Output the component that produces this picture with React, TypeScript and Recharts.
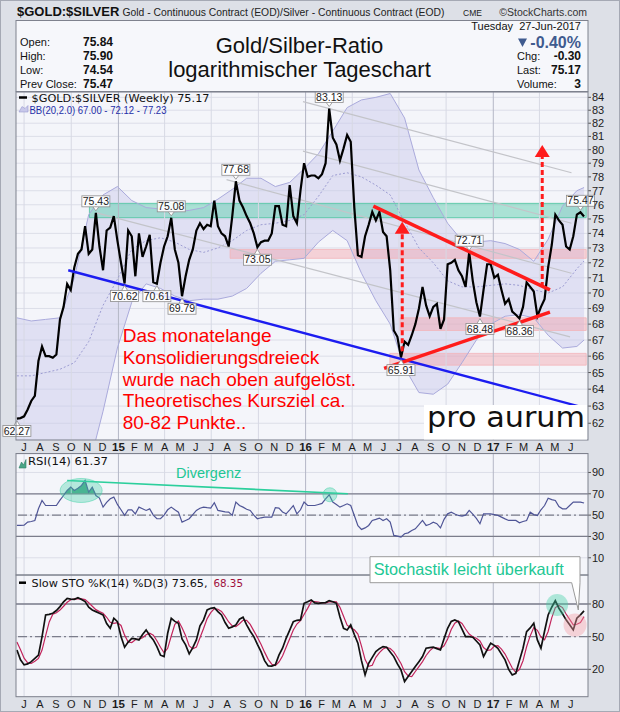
import React from "react";
import {
  ComposedChart,
  Line,
  Area,
  XAxis,
  YAxis,
  CartesianGrid,
  ReferenceLine,
  ReferenceArea,
  ReferenceDot,
} from "recharts";

// weekly bars: first one is the week of 17-Jun-2014, the last one is 27-Jun-2017
const FIRST_BAR = Date.UTC(2014, 5, 17);
const WEEK = 7 * 24 * 3600 * 1000;

const closes = [
  62.27, 62.3, 62.4, 62.8, 63.3, 63.6, 65.7, 66.6, 66.0, 66.0,
  65.9, 66.1, 68.3, 69.1, 70.6, 70.2, 71.7, 72.6, 72.9, 74.5,
  72.6, 72.9, 75.43, 73.1, 71.5, 74.2, 74.4, 75.2, 73.5, 72.0,
  70.62, 74.2, 73.8, 71.1, 74.0, 72.4, 73.1, 73.9, 70.7, 70.61,
  72.0, 73.1, 73.8, 75.08, 72.9, 72.0, 69.79, 71.1, 72.2, 72.9,
  74.2, 74.7, 74.3, 74.6, 74.5, 76.3, 74.5, 74.0, 73.8, 73.1,
  75.2, 77.68, 76.3, 75.8, 75.2, 74.7, 74.0, 73.05, 73.4, 73.5,
  73.5, 74.0, 75.9, 75.9, 74.6, 74.5, 77.4, 75.2, 74.7, 77.0,
  79.0, 78.0, 78.1, 78.1, 77.9, 78.2, 79.0, 83.13, 80.9, 80.4,
  79.2, 80.1, 81.1, 80.6, 75.8, 72.5, 72.4, 73.8, 74.6, 75.5,
  74.9, 75.5, 74.1, 73.8, 71.5, 67.6, 67.2, 65.91, 66.9, 66.7,
  67.3, 68.0, 69.0, 70.4, 69.2, 68.5, 69.1, 69.3, 67.7, 68.3,
  71.9, 72.0, 72.2, 71.5, 71.1, 70.4, 72.71, 70.8, 69.4, 68.48,
  70.2, 71.9, 71.9, 71.0, 71.2, 70.2, 69.3, 69.6, 68.8, 68.6,
  68.36, 69.1, 70.7, 70.4, 70.1, 68.5, 69.1, 69.6, 71.7, 73.2,
  75.3, 74.9, 74.6, 73.1, 72.9, 73.8, 75.3, 75.47, 75.17,
];

const rsi14 = [
  40.3, 40.3, 40.5, 43.4, 44.0, 45.0, 56.0, 63.7, 59.0, 59.0,
  59.0, 59.0, 64.0, 68.4, 73.1, 76.2, 73.1, 75.3, 77.8, 82.5,
  71.6, 76.2, 68.4, 66.0, 57.5, 62.0, 65.3, 66.9, 60.0, 55.0,
  49.7, 55.0, 55.0, 51.2, 57.5, 56.0, 54.4, 55.9, 50.0, 46.6,
  46.6, 50.0, 55.0, 57.5, 55.0, 52.8, 43.4, 45.0, 46.6, 50.5,
  54.4, 56.5, 57.5, 57.0, 56.6, 61.6, 54.4, 53.8, 53.0, 52.8,
  49.7, 62.2, 59.0, 57.5, 55.5, 54.4, 50.0, 46.6, 47.5, 48.1,
  48.1, 48.1, 57.0, 56.6, 53.0, 51.2, 55.0, 59.0, 51.2, 55.0,
  62.2, 59.0, 59.0, 59.0, 60.0, 61.0, 65.3, 69.1, 62.2, 60.0,
  57.5, 59.0, 60.6, 59.0, 49.7, 40.0, 36.6, 38.0, 40.3, 45.0,
  46.0, 47.2, 45.0, 46.6, 43.4, 31.0, 30.3, 29.4, 32.5, 33.4,
  35.6, 37.2, 41.0, 45.0, 40.3, 41.5, 43.4, 42.0, 38.0, 46.0,
  51.2, 52.8, 51.0, 49.7, 49.1, 50.0, 54.4, 51.0, 47.0, 41.9,
  51.2, 51.2, 51.2, 50.5, 49.7, 48.1, 46.5, 45.0, 45.0, 45.0,
  42.8, 44.0, 45.0, 52.8, 50.5, 49.7, 55.0, 59.0, 65.9, 64.5,
  63.7, 58.0, 55.9, 55.9, 59.0, 62.2, 62.2, 62.2, 61.37,
];

const stoK = [
  37.8, 28.7, 24.1, 25.0, 27.1, 30.0, 33.0, 50.1, 69.9, 70.5,
  71.5, 74.0, 77.6, 82.0, 85.2, 84.5, 84.3, 85.8, 84.0, 82.2,
  77.0, 74.5, 73.0, 71.5, 69.9, 62.0, 57.7, 66.9, 63.8, 50.1,
  40.3, 45.0, 48.5, 48.0, 47.0, 52.0, 56.2, 51.0, 47.0, 40.9,
  33.0, 31.7, 53.1, 66.9, 64.0, 62.3, 48.0, 42.4, 34.2, 40.0,
  47.0, 60.0, 65.4, 74.5, 76.0, 76.7, 73.0, 69.9, 63.0, 57.7,
  59.0, 60.8, 66.0, 67.8, 60.8, 55.0, 50.1, 43.0, 36.3, 28.0,
  23.2, 23.0, 24.1, 33.0, 39.4, 48.5, 56.0, 63.8, 65.0, 65.4,
  80.6, 82.0, 83.7, 81.0, 80.6, 81.0, 81.3, 83.1, 82.0, 80.6,
  68.0, 57.7, 56.2, 60.8, 52.0, 44.0, 28.0, 14.9, 25.6, 31.0,
  36.3, 39.0, 40.9, 40.3, 36.0, 31.7, 25.0, 19.5, 8.8, 13.4,
  18.0, 22.5, 27.0, 31.7, 39.4, 40.0, 40.3, 39.0, 37.8, 48.0,
  57.7, 64.0, 65.4, 63.8, 57.0, 50.1, 50.0, 49.5, 46.0, 42.4,
  31.7, 38.0, 44.0, 42.0, 39.4, 34.0, 28.7, 20.0, 14.9, 16.4,
  28.0, 39.4, 54.6, 58.0, 62.3, 47.0, 39.4, 55.0, 69.9, 77.0,
  83.1, 76.1, 71.0, 65.4, 61.0, 56.2, 66.9, 70.0, 73.65,
];

const stoD = [
  45.0, 38.0, 30.2, 25.9, 25.4, 27.4, 30.0, 37.7, 51.0, 63.5,
  70.6, 72.0, 74.4, 77.9, 81.6, 83.9, 84.7, 84.9, 84.7, 84.0,
  81.1, 77.9, 74.8, 73.0, 71.5, 67.8, 63.2, 62.2, 62.8, 60.3,
  51.4, 45.1, 44.6, 47.2, 47.8, 49.0, 51.7, 53.1, 51.4, 46.3,
  40.3, 35.2, 39.3, 50.6, 61.3, 64.4, 58.1, 50.9, 41.5, 38.9,
  40.4, 49.0, 57.5, 66.6, 72.0, 75.7, 75.2, 73.2, 68.6, 63.5,
  59.9, 59.2, 61.9, 64.9, 64.9, 61.2, 55.3, 49.4, 43.1, 35.8,
  29.2, 24.7, 23.4, 26.7, 32.2, 40.3, 48.0, 56.1, 61.6, 64.7,
  70.3, 76.0, 82.1, 82.2, 81.8, 80.9, 81.0, 81.8, 82.1, 81.9,
  76.9, 68.8, 60.6, 58.2, 56.3, 52.3, 41.3, 29.0, 22.8, 23.8,
  31.0, 35.4, 38.7, 40.1, 39.1, 36.0, 30.9, 25.4, 17.8, 13.9,
  13.4, 18.0, 22.5, 27.1, 32.7, 37.0, 39.9, 39.8, 39.0, 41.6,
  47.8, 56.6, 62.4, 64.4, 62.1, 57.0, 52.4, 49.9, 48.5, 46.0,
  40.0, 37.4, 37.9, 41.3, 41.8, 38.5, 34.0, 27.6, 21.2, 17.1,
  19.8, 27.9, 40.7, 50.7, 58.3, 55.8, 49.6, 47.1, 54.8, 67.3,
  76.7, 78.7, 76.7, 70.8, 65.8, 60.9, 61.4, 63.0, 68.35,
];

// Bollinger bands (20, 2.0), read every fourth week
const bbWeeks = [
  0, 4, 8, 12, 16, 20, 24, 28, 32, 36, 40, 44, 48, 52, 56, 60, 64, 68, 72, 76,
  80, 84, 88, 92, 96, 100, 104, 108, 112, 116, 120, 124, 128, 132, 136, 140, 144, 148, 152, 156, 158,
];
const bbUpper = [
  68.4, 68.2, 68.3, 68.4, 71.0, 75.3, 76.7, 77.3, 76.3, 75.8,
  75.7, 75.5, 75.6, 75.8, 76.4, 77.1, 77.9, 77.9, 77.3, 77.6,
  78.6, 79.7, 81.4, 83.2, 83.8, 84.0, 84.3, 82.4, 78.5, 76.5,
  74.7, 73.5, 73.4, 73.5, 73.3, 72.9, 72.1, 73.6, 75.9, 77.0,
  77.23,
];
const bbMiddle = [
  64.8, 64.8, 65.0, 65.2, 65.6, 66.9, 69.2, 70.9, 72.9, 73.5,
  73.7, 73.4, 72.9, 72.7, 73.0, 73.5, 74.2, 74.6, 74.7, 74.9,
  75.3, 76.6, 78.1, 78.3, 78.0, 77.4, 76.7, 74.8, 73.0, 72.0,
  70.8, 70.4, 70.4, 70.5, 70.6, 70.5, 70.2, 70.0, 70.4, 71.6,
  72.12,
];
const bbLower = [
  60.6, 60.6, 60.8, 61.0, 59.8, 59.5, 62.7, 66.5, 69.4, 70.6,
  70.3, 69.8, 69.5, 69.6, 69.6, 69.8, 70.3, 71.3, 72.1, 72.2,
  72.3, 73.4, 74.2, 73.5, 71.3, 69.5, 68.0, 65.3, 63.8, 63.7,
  64.3, 65.6, 67.0, 68.0, 68.5, 68.6, 68.4, 67.3, 66.5, 66.6,
  67.0,
];

const monthLabels = [
  "J", "A", "S", "O", "N", "D", "15", "F", "M", "A", "M", "J",
  "J", "A", "S", "O", "N", "D", "16", "F", "M", "A", "M", "J",
  "J", "A", "S", "O", "N", "D", "17", "F", "M", "A", "M", "J",
];
const priceTicks = [62, 63, 64, 65, 66, 67, 68, 69, 70, 71, 72, 73, 74, 75, 76, 77, 78, 79, 80, 81, 82, 83, 84];
const rsiTicks = [10, 30, 50, 70, 90];
const stoTicks = [20, 50, 80];

// weeks that carry a value tag
const tagsHigh = [22, 43, 61, 87, 126, 157];
const tagsLow = [0, 30, 39, 46, 67, 107, 129, 140];

// hand drawn annotations: [week, value, week, value]
const resistanceZone = [20.2, 75.09, 76.1];
const supportZones = [
  [59.4, 72.3, 72.9],
  [106.7, 67.6, 68.4],
  [103.9, 65.45, 66.17],
];
const channelLines = [
  [79.7, 83.66, 154.5, 78.3],
  [79.7, 79.9, 154.5, 74.7],
  [58.4, 77.8, 154.5, 71.3],
  [22.2, 75.43, 154.1, 67.2],
];
const blueTrend = [14.3, 71.5, 158.7, 62.87];
const triangleTop = [99.3, 75.9, 148.5, 70.2];
const triangleBottom = [102.3, 65.25, 148.5, 68.76];
const targetArrows = [
  { week: 107.35, from: 66.3, to: 74.0, tip: 74.8 },
  { week: 146.35, from: 70.4, to: 79.5, tip: 80.35 },
];
const divergence = [14.0, 82.5, 92.2, 70.0];

const monthTicks = monthLabels.map((_, k) => (Date.UTC(2014, 6 + k, 1) - FIRST_BAR) / WEEK);
const quarterTicks = monthTicks.filter((_, k) => (6 + k) % 3 === 0);
const yearTicks = monthTicks.filter((_, k) => (6 + k) % 12 === 0);

const weeklyRows = closes.map((c, i) => ({ i, close: c, rsi: rsi14[i], k: stoK[i], d: stoD[i] }));
const bbRows = bbWeeks.map((w, j) => ({
  i: w,
  upper: bbUpper[j],
  mid: bbMiddle[j],
  lower: bbLower[j],
  band: [bbLower[j], bbUpper[j]],
}));

const SANS = "'Liberation Sans', Arial, sans-serif";
const LEGEND = "'DejaVu Sans', Verdana, sans-serif";
const X_DOMAIN: [number, number] = [-0.25, 159.1];
const MARGIN = { top: 0, right: 2, bottom: 0, left: 16 };
const PLOT_BG = "#f4f5fa";
const FRAME = "#7f828e";

function MonthTick(props: any) {
  const { x, y, payload } = props;
  const k = monthTicks.indexOf(payload.value);
  const label = monthLabels[k] ?? "";
  const year = /\d/.test(label);
  return (
    <text
      x={x}
      y={y + 11}
      textAnchor="middle"
      fontSize={year ? 11.5 : 11}
      fontWeight={year ? 700 : 400}
      fill="#1c1c1c"
      fontFamily={SANS}
    >
      {label}
    </text>
  );
}

function ValueTick(props: any) {
  const { x, y, payload } = props;
  return (
    <text x={x} y={y + 4} textAnchor="start" fontSize={11} fill="#1c1c1c" fontFamily={SANS}>
      {payload.value}
    </text>
  );
}

function gridLines() {
  return quarterTicks.map((q) => (
    <ReferenceLine
      key={"q" + q}
      x={q}
      stroke={yearTicks.includes(q) ? "#b4b7c6" : "#d7d9e4"}
      strokeWidth={1}
    />
  ));
}

function PriceTag({ cx, cy, text, below }: any) {
  const w = 28;
  const h = 11;
  const top = below ? cy + 7 : cy - 6 - h;
  const edge = below ? top : top + h;
  return (
    <g>
      <polyline
        points={`${cx - 3},${edge} ${cx},${below ? cy + 2 : cy - 2} ${cx + 3},${edge}`}
        fill="#fff"
        stroke="#8d8d8d"
        strokeWidth={0.8}
      />
      <rect x={cx - w / 2} y={top} width={w} height={h} fill="#fff" fillOpacity={0.9} stroke="#8d8d8d" strokeWidth={0.8} />
      <text x={cx} y={top + h - 1.8} textAnchor="middle" fontSize={10.5} fontFamily={SANS} fill="#222">
        {text}
      </text>
    </g>
  );
}

function ArrowHead({ cx, cy }: any) {
  return <polygon points={`${cx},${cy} ${cx - 7.5},${cy + 12} ${cx + 7.5},${cy + 12}`} fill="#ff1c1c" />;
}

function MainPanel() {
  return (
    <ComposedChart width={620} height={364} data={weeklyRows} margin={MARGIN}>
      <CartesianGrid vertical={false} stroke="#dcdee8" />
      <XAxis
        type="number"
        dataKey="i"
        domain={X_DOMAIN}
        allowDataOverflow
        ticks={monthTicks}
        interval={0}
        tickLine={false}
        axisLine={false}
        tickSize={0}
        tickMargin={0}
        height={16}
        tick={<MonthTick />}
      />
      <YAxis
        orientation="right"
        type="number"
        scale="log"
        domain={[61.04, 84.42]}
        allowDataOverflow
        ticks={priceTicks}
        interval={0}
        width={30}
        tickSize={3}
        tickMargin={1}
        axisLine={false}
        tickLine={{ stroke: "#555" }}
        tick={<ValueTick />}
      />
      {gridLines()}
      <Area
        data={bbRows}
        dataKey="band"
        type="linear"
        stroke="none"
        fill="#c8c8ea"
        fillOpacity={0.45}
        isAnimationActive={false}
        dot={false}
        activeDot={false}
      />
      <Line data={bbRows} dataKey="upper" type="linear" stroke="#aaaadc" strokeWidth={1} dot={false} isAnimationActive={false} />
      <Line data={bbRows} dataKey="lower" type="linear" stroke="#aaaadc" strokeWidth={1} dot={false} isAnimationActive={false} />
      <Line
        data={bbRows}
        dataKey="mid"
        type="linear"
        stroke="#9c9cd2"
        strokeWidth={1}
        strokeDasharray="2 2"
        dot={false}
        isAnimationActive={false}
      />
      <ReferenceArea
        x1={resistanceZone[0]}
        x2={158.6}
        y1={resistanceZone[1]}
        y2={resistanceZone[2]}
        fill="#5fd0b0"
        fillOpacity={0.5}
        stroke="#4cc39f"
        strokeOpacity={0.8}
      />
      {supportZones.map((z, n) => (
        <ReferenceArea
          key={"s" + n}
          x1={z[0]}
          x2={158.6}
          y1={z[1]}
          y2={z[2]}
          fill="#f59aa2"
          fillOpacity={0.4}
          stroke="#f2b4b9"
          strokeOpacity={0.8}
        />
      ))}
      {channelLines.map((l, n) => (
        <ReferenceLine
          key={"c" + n}
          segment={[
            { x: l[0], y: l[1] },
            { x: l[2], y: l[3] },
          ]}
          stroke="#c3c4c9"
          strokeWidth={1.2}
        />
      ))}
      <Line dataKey="close" type="linear" stroke="#000" strokeWidth={2.2} dot={false} isAnimationActive={false} />
      <ReferenceLine
        segment={[
          { x: blueTrend[0], y: blueTrend[1] },
          { x: blueTrend[2], y: blueTrend[3] },
        ]}
        stroke="#1c1cf0"
        strokeWidth={2.4}
      />
      {[triangleTop, triangleBottom].map((l, n) => (
        <ReferenceLine
          key={"t" + n}
          segment={[
            { x: l[0], y: l[1] },
            { x: l[2], y: l[3] },
          ]}
          stroke="#ff1c1c"
          strokeWidth={3.5}
        />
      ))}
      {targetArrows.map((a, n) => (
        <ReferenceLine
          key={"a" + n}
          segment={[
            { x: a.week, y: a.from },
            { x: a.week, y: a.to },
          ]}
          stroke="#ff1c1c"
          strokeWidth={3}
          strokeDasharray="5 3"
        />
      ))}
      {targetArrows.map((a, n) => (
        <ReferenceDot key={"h" + n} x={a.week} y={a.tip} r={0} shape={(p: any) => <ArrowHead cx={p.cx} cy={p.cy} />} />
      ))}
      {tagsHigh.map((w) => (
        <ReferenceDot
          key={"th" + w}
          x={w}
          y={closes[w]}
          r={0}
          shape={(p: any) => <PriceTag cx={p.cx} cy={p.cy} text={closes[w].toFixed(2)} />}
        />
      ))}
      {tagsLow.map((w) => (
        <ReferenceDot
          key={"tl" + w}
          x={w}
          y={closes[w]}
          r={0}
          shape={(p: any) => <PriceTag cx={p.cx} cy={p.cy} text={closes[w].toFixed(2)} below />}
        />
      ))}
    </ComposedChart>
  );
}

function RsiPanel() {
  return (
    <ComposedChart width={620} height={121.5} data={weeklyRows} margin={MARGIN}>
      <CartesianGrid vertical={false} stroke="#dcdee8" />
      <XAxis type="number" dataKey="i" domain={X_DOMAIN} allowDataOverflow hide />
      <YAxis
        orientation="right"
        type="number"
        domain={[-6.6, 107.3]}
        allowDataOverflow
        ticks={rsiTicks}
        interval={0}
        width={30}
        tickSize={3}
        tickMargin={1}
        axisLine={false}
        tickLine={{ stroke: "#555" }}
        tick={<ValueTick />}
      />
      {gridLines()}
      <Area
        dataKey={(r: any) => [70, Math.max(70, r.rsi)]}
        type="linear"
        stroke="none"
        fill="#3d9c7c"
        fillOpacity={0.9}
        isAnimationActive={false}
        dot={false}
        activeDot={false}
      />
      <ReferenceLine y={70} stroke="#7b7d8b" strokeWidth={1.3} />
      <ReferenceLine y={30} stroke="#7b7d8b" strokeWidth={1.3} />
      <ReferenceLine y={50} stroke="#7b7d8b" strokeWidth={1.2} strokeDasharray="9 3 2 3" />
      <ReferenceDot
        x={17.9}
        y={73.1}
        r={0}
        shape={(p: any) => (
          <ellipse cx={p.cx} cy={p.cy} rx={21} ry={12} fill="#3fd2a5" fillOpacity={0.35} stroke="#3fd2a5" strokeOpacity={0.5} />
        )}
      />
      <ReferenceDot
        x={87.2}
        y={69.1}
        r={0}
        shape={(p: any) => (
          <circle cx={p.cx} cy={p.cy} r={7} fill="#3fd2a5" fillOpacity={0.35} stroke="#3fd2a5" strokeOpacity={0.5} />
        )}
      />
      <Line dataKey="rsi" type="linear" stroke="#4f5596" strokeWidth={1.2} dot={false} isAnimationActive={false} />
      <ReferenceLine
        segment={[
          { x: divergence[0], y: divergence[1] },
          { x: divergence[2], y: divergence[3] },
        ]}
        stroke="#2ccf9c"
        strokeWidth={1.6}
      />
    </ComposedChart>
  );
}

function StoPanel() {
  return (
    <ComposedChart width={620} height={137.7} data={weeklyRows} margin={MARGIN}>
      <CartesianGrid vertical={false} stroke="#dcdee8" />
      <XAxis
        type="number"
        dataKey="i"
        domain={X_DOMAIN}
        allowDataOverflow
        ticks={monthTicks}
        interval={0}
        tickLine={false}
        axisLine={false}
        tickSize={0}
        tickMargin={0}
        height={16}
        tick={<MonthTick />}
      />
      <YAxis
        orientation="right"
        type="number"
        domain={[-5.1, 106.6]}
        allowDataOverflow
        ticks={stoTicks}
        interval={0}
        width={30}
        tickSize={3}
        tickMargin={1}
        axisLine={false}
        tickLine={{ stroke: "#555" }}
        tick={<ValueTick />}
      />
      {gridLines()}
      <ReferenceLine y={80} stroke="#7b7d8b" strokeWidth={1.3} />
      <ReferenceLine y={20} stroke="#7b7d8b" strokeWidth={1.3} />
      <ReferenceLine y={50} stroke="#7b7d8b" strokeWidth={1.2} strokeDasharray="9 3 2 3" />
      <ReferenceDot
        x={150.5}
        y={79.1}
        r={0}
        shape={(p: any) => <circle cx={p.cx} cy={p.cy} r={11} fill="#40d0a4" fillOpacity={0.4} />}
      />
      <ReferenceDot
        x={155.5}
        y={60.7}
        r={0}
        shape={(p: any) => <circle cx={p.cx} cy={p.cy} r={11.5} fill="#f59aa2" fillOpacity={0.4} />}
      />
      <Line dataKey="d" type="linear" stroke="#c2255c" strokeWidth={1.2} dot={false} isAnimationActive={false} />
      <Line dataKey="k" type="linear" stroke="#111" strokeWidth={1.7} dot={false} isAnimationActive={false} />
    </ComposedChart>
  );
}

function Backdrop() {
  return (
    <svg width={620} height={712} style={{ position: "absolute", left: 0, top: 0 }} fontFamily={SANS}>
      <rect x={0} y={0} width={620} height={712} fill="#dde0e7" />
      <rect x={0.5} y={0.5} width={619} height={711} fill="none" stroke="#a5a9b4" />
      <text x={17} y={16} fontSize={13} fontWeight={700} fill="#111">
        $GOLD:$SILVER
      </text>
      <text x={122.5} y={15.5} fontSize={10} fill="#222" textLength={322} lengthAdjust="spacingAndGlyphs">
        Gold - Continuous Contract (EOD)/Silver - Continuous Contract (EOD)
      </text>
      <text x={463} y={15.5} fontSize={8.5} fill="#222">
        CME
      </text>
      <text x={587} y={15.5} fontSize={10.5} fill="#333" textAnchor="end">
        ©StockCharts.com
      </text>

      <rect x={16} y={20.5} width={572} height={71} fill="#f6f7fb" stroke={FRAME} />
      {[
        ["Open:", "75.84", 46],
        ["High:", "75.90", 60],
        ["Low:", "74.54", 74],
        ["Prev Close:", "75.47", 88],
      ].map(([l, v, y]) => (
        <g key={l as string}>
          <text x={20} y={y as number} fontSize={11} fill="#111">
            {l}
          </text>
          <text x={83} y={y as number} fontSize={12} fontWeight={700} fill="#111">
            {v}
          </text>
        </g>
      ))}
      <text x={299.5} y={53.3} fontSize={22} fill="#111" textAnchor="middle">
        Gold/Silber-Ratio
      </text>
      <text x={299.5} y={76.7} fontSize={22} fill="#111" textAnchor="middle">
        logarithmischer Tageschart
      </text>
      <text x={581} y={30} fontSize={11} fill="#111" textAnchor="end">
        Tuesday{"\u00a0 "}27-Jun-2017
      </text>
      <polygon points="518,38.5 527,38.5 522.5,47" fill="#3f5b8f" />
      <text x={581} y={47.5} fontSize={16} fontWeight={700} fill="#3f5b8f" textAnchor="end">
        -0.40%
      </text>
      {[
        ["Chg:", "-0.30", 60],
        ["Last:", "75.17", 74],
        ["Volume:", "3", 88],
      ].map(([l, v, y]) => (
        <g key={l as string}>
          <text x={517} y={y as number} fontSize={11} fill="#111">
            {l}
          </text>
          <text x={581} y={y as number} fontSize={12} fontWeight={700} fill="#111" textAnchor="end">
            {v}
          </text>
        </g>
      ))}

      <rect x={16} y={92} width={572} height={348} fill={PLOT_BG} />
      <rect x={16} y={453.5} width={572} height={121.5} fill={PLOT_BG} />
      <rect x={16} y={575} width={572} height={121.7} fill={PLOT_BG} />
    </svg>
  );
}

function Overlay() {
  const note = [
    "Das monatelange",
    "Konsolidierungsdreieck",
    "wurde nach oben aufgelöst.",
    "Theoretisches Kursziel ca.",
    "80-82 Punkte..",
  ];
  return (
    <svg
      width={620}
      height={712}
      style={{ position: "absolute", left: 0, top: 0, pointerEvents: "none" }}
      fontFamily={SANS}
    >
      <rect x={16} y={92} width={572} height={348} fill="none" stroke={FRAME} />
      <rect x={16} y={453.5} width={572} height={121.5} fill="none" stroke={FRAME} />
      <rect x={16} y={575} width={572} height={121.7} fill="none" stroke={FRAME} />

      <line x1={19} y1={97.5} x2={27} y2={97.5} stroke="#000" strokeWidth={2.5} />
      <text x={31.5} y={101.5} fontSize={11} fontFamily={LEGEND} fill="#111" textLength={178} lengthAdjust="spacingAndGlyphs">
        $GOLD:$SILVER (Weekly) 75.17
      </text>
      <path d="M19 112 L22 106.5 L25 108.5 L28 105.5 L28 112 Z" fill="#c8c8ea" stroke="#9a9ad0" strokeWidth={0.6} />
      <text x={29.5} y={113.5} fontSize={10.5} fill="#1f2fa8" textLength={137} lengthAdjust="spacingAndGlyphs">
        BB(20,2.0) 67.00 - 72.12 - 77.23
      </text>

      {note.map((t, n) => (
        <text key={t} x={122.7} y={341.7 + n * 21.9} fontSize={19} fill="#ff0000">
          {t}
        </text>
      ))}

      <rect x={424} y={405} width={163} height={34.5} fill="#fff" />
      <text x={427} y={427} fontSize={29} fontFamily="'DejaVu Sans', sans-serif" fill="#111" textLength={158} lengthAdjust="spacingAndGlyphs">
        pro aurum
      </text>

      <path d="M19 468 L21.5 462 L23.5 465 L26 459.5 L26 468 Z" fill="#4aa587" stroke="#2f7f66" strokeWidth={0.6} />
      <text x={28} y={465} fontSize={11} fontFamily={LEGEND} fill="#111" textLength={80} lengthAdjust="spacingAndGlyphs">
        RSI(14) 61.37
      </text>
      <text x={176} y={478} fontSize={14.5} fill="#22c794">
        Divergenz
      </text>

      <line x1={19} y1={582.7} x2={26} y2={582.7} stroke="#000" strokeWidth={2.5} />
      <text x={31.6} y={586.5} fontSize={11} fontFamily={LEGEND} fill="#111" textLength={176} lengthAdjust="spacingAndGlyphs">
        Slow STO %K(14) %D(3) 73.65,
      </text>
      <text x={213.4} y={586.5} fontSize={11} fontFamily={LEGEND} fill="#a0103c" textLength={29.6} lengthAdjust="spacingAndGlyphs">
        68.35
      </text>

      <path
        d="M370 556.7 H580 V582.7 L578.3 610 L571.7 582.7 H370 Z"
        fill="#fff"
        stroke="#9a9a9a"
        strokeWidth={1}
      />
      <text x={373.7} y={575} fontSize={16.5} fill="#22c794" textLength={190} lengthAdjust="spacingAndGlyphs">
        Stochastik leicht überkauft
      </text>
    </svg>
  );
}

export default function App() {
  return (
    <div style={{ position: "absolute", left: 0, top: 0, width: 620, height: 712, overflow: "hidden" }}>
      <Backdrop />
      <div style={{ position: "absolute", left: 0, top: 92 }}>
        <MainPanel />
      </div>
      <div style={{ position: "absolute", left: 0, top: 453.5 }}>
        <RsiPanel />
      </div>
      <div style={{ position: "absolute", left: 0, top: 575 }}>
        <StoPanel />
      </div>
      <Overlay />
    </div>
  );
}
